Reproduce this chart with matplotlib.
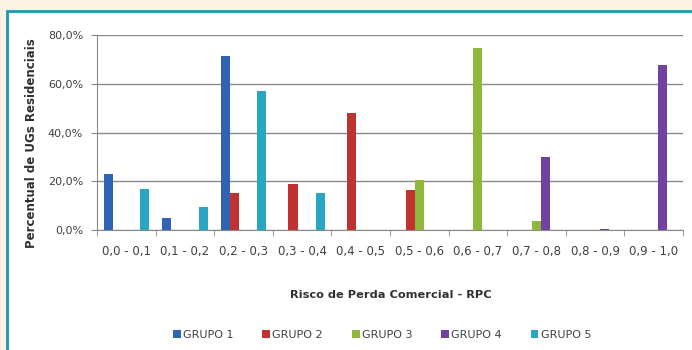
import matplotlib.pyplot as plt
import numpy as np
from matplotlib.patches import Rectangle
from matplotlib.ticker import FuncFormatter

# faixas de RPC
categorias = ['0,0 - 0,1', '0,1 - 0,2', '0,2 - 0,3', '0,3 - 0,4', '0,4 - 0,5',
              '0,5 - 0,6', '0,6 - 0,7', '0,7 - 0,8', '0,8 - 0,9', '0,9 - 1,0']

# percentual de UGs residenciais por grupo
grupo1 = [23.0, 5.0, 71.5, 0, 0, 0, 0, 0, 0, 0]
grupo2 = [0, 0, 15.0, 19.0, 48.0, 16.5, 0, 0, 0, 0]
grupo3 = [0, 0, 0, 0, 0, 20.5, 74.5, 3.5, 0, 0]
grupo4 = [0, 0, 0, 0, 0, 0, 0, 30.0, 0.3, 67.5]
grupo5 = [17.0, 9.5, 57.0, 15.0, 0, 0, 0, 0, 0, 0]

grupos = ['GRUPO 1', 'GRUPO 2', 'GRUPO 3', 'GRUPO 4', 'GRUPO 5']
cores = ['#2f64b3', '#c0322f', '#8db83c', '#7142a0', '#29a6c2']

fig = plt.figure(figsize=(6.92, 3.5), dpi=100)
fig.patch.set_facecolor('#fcf3e4')

# moldura azul do quadro
fig.patches.append(Rectangle((7 / 692, -0.1), 1.1, 1 - 11 / 350 + 0.1,
                             transform=fig.transFigure, facecolor='white',
                             edgecolor='#1b97b5', lw=2, zorder=-1))

ax = fig.add_axes([97 / 692, 1 - 230 / 350, (683 - 97) / 692, (230 - 35) / 350])
ax.set_facecolor('none')
ax.set_zorder(1)

x = np.arange(len(categorias))
w = 0.155
for k, (vals, nome, cor) in enumerate(zip([grupo1, grupo2, grupo3, grupo4, grupo5], grupos, cores)):
    ax.bar(x + (k - 2) * w, vals, width=w, color=cor, label=nome, zorder=3)

ax.set_xlim(-0.5, len(categorias) - 0.5)
ax.set_ylim(0, 80)
ax.set_yticks([0, 20, 40, 60, 80])
ax.yaxis.set_major_formatter(FuncFormatter(lambda v, p: f'{v:.1f}%'.replace('.', ',')))
ax.grid(axis='y', color='#8a8a8a', lw=1, zorder=1)

ax.set_xticks(x)
ax.set_xticklabels(categorias)
ax.set_xticks(np.arange(-0.5, len(categorias)), minor=True)
ax.tick_params(axis='x', which='major', length=0, pad=11, labelsize=8.5, labelcolor='#404040')
ax.tick_params(axis='x', which='minor', length=4, color='#8a8a8a')
ax.tick_params(axis='y', length=4, pad=6, color='#8a8a8a', labelsize=8, labelcolor='#404040')

for s in ['top', 'right']:
    ax.spines[s].set_visible(False)
for s in ['left', 'bottom']:
    ax.spines[s].set_color('#8a8a8a')

fig.text(32 / 692, 1 - 143 / 350, 'Percentual de UGs Residenciais', rotation=90,
         ha='center', va='center', fontsize=8.5, fontweight='bold', color='#303030')
fig.text(391 / 692, 1 - 295 / 350, 'Risco de Perda Comercial - RPC',
         ha='center', va='center', fontsize=8.2, fontweight='bold', color='#303030')

fig.legend(loc='center', bbox_to_anchor=(382 / 692, 1 - 335 / 350), ncol=5, frameon=False,
           fontsize=8, handlelength=0.7, handleheight=0.7, handletextpad=0.2,
           columnspacing=2.6, labelcolor='#404040')

fig.savefig('out.png', dpi=100, facecolor=fig.get_facecolor())
